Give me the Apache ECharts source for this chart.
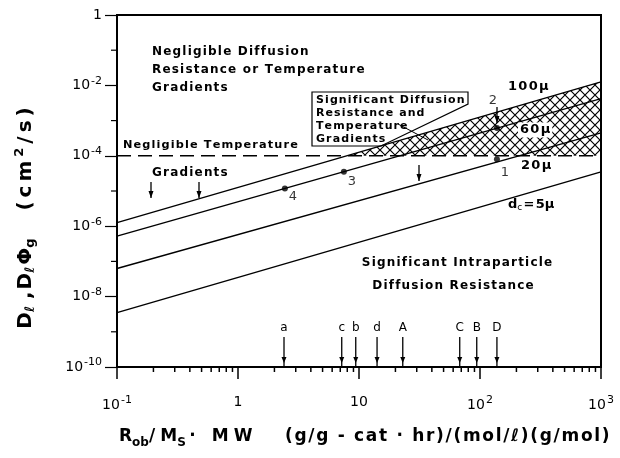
<!DOCTYPE html>
<html>
<head>
    <meta charset="utf-8"/>
    <title>Diffusion regimes</title>
    <script src="https://cdn.jsdelivr.net/npm/echarts/dist/echarts.min.js"></script>
    <style>
        html, body { margin: 0; padding: 0; background: #fff; }
        #main { width: 620px; height: 458px; }
    </style>
</head>
<body>
<div id="main"></div>
<script>
    // particle size lines, end points at x = 0.1 and x = 1000
    let sizeNames = ['100μ', '60μ', '20μ', '5μ'];
    let sizeLeft = [1.26e-6, 5.2e-7, 6.3e-8, 3.5e-9];
    let sizeRight = [1.26e-2, 4.2e-3, 4.5e-4, 3.5e-5];
    let xMin = 0.1, xMax = 1000;
    let threshold = 1e-4;

    // numbered experimental points
    let ptNames = ['1', '2', '3', '4'];
    let ptX = [138, 138, 7.5, 2.44];
    let ptY = [8e-5, 6.2e-4, 3.5e-5, 1.17e-5];

    // catalyst markers along the x axis
    let markNames = ['a', 'c', 'b', 'd', 'A', 'C', 'B', 'D'];
    let markX = [2.4, 7.2, 9.4, 14.1, 23, 68, 94, 138];

    let yMajor = [1e-10, 1e-8, 1e-6, 1e-4, 1e-2, 1];
    let yMinor = [1e-1, 1e-3, 1e-5, 1e-7, 1e-9];
    let xMinor = [];
    [0.1, 1, 10, 100].forEach(function (d) {
        for (let k = 2; k <= 9; k++) xMinor.push(d * k);
    });

    let FONT = 'DejaVu Sans';
    let HS = '\u200A';
    let TS = '\u2009';

    function spaced(s, sep) {
        return s.split('').join(sep || HS);
    }

    function hatch() {
        let c = document.createElement('canvas');
        c.width = 10; c.height = 10;
        let g = c.getContext('2d');
        g.strokeStyle = '#000';
        g.lineWidth = 1.2;
        g.beginPath();
        g.moveTo(-1, -1); g.lineTo(11, 11);
        g.moveTo(11, -1); g.lineTo(-1, 11);
        g.stroke();
        return c;
    }

    function powLabel(v) {
        let e = Math.round(Math.log10(v));
        if (e === 0) return '{n|1}';
        if (e === 1) return '{n|10}';
        return '{n|10}{s|' + (e < 0 ? '-' : '') + Math.abs(e) + '}';
    }

    let labelRich = {
        n: {fontFamily: FONT, fontSize: 14, color: '#000'},
        s: {fontFamily: FONT, fontSize: 11, color: '#000', padding: [0, 0, 9, 1]}
    };

    // where the 100μ line crosses the threshold (log-linear)
    function crossX(y0, y1, yc) {
        let l0 = Math.log10(xMin), l1 = Math.log10(xMax);
        let t = (Math.log10(yc) - Math.log10(y0)) / (Math.log10(y1) - Math.log10(y0));
        return Math.pow(10, l0 + t * (l1 - l0));
    }

    let series = [];

    // hatched band: above threshold, below the largest particle line
    series.push({
        type: 'custom',
        clip: false,
        silent: true,
        z: 1,
        data: [[crossX(sizeLeft[0], sizeRight[0], threshold), threshold]],
        renderItem: function (params, api) {
            let a = api.coord([api.value(0), threshold]);
            let b = api.coord([xMax, sizeRight[0]]);
            let c = api.coord([xMax, threshold]);
            return {
                type: 'polygon',
                shape: {points: [a, b, c]},
                style: {fill: {image: hatch(), repeat: 'repeat'}, stroke: null}
            };
        }
    });

    sizeNames.forEach(function (n, i) {
        series.push({
            type: 'line', name: n, z: 3,
            symbol: 'none', silent: true,
            lineStyle: {color: '#000', width: 1.4},
            data: [[xMin, sizeLeft[i]], [xMax, sizeRight[i]]]
        });
    });

    series.push({
        type: 'line', z: 3, symbol: 'none', silent: true,
        lineStyle: {color: '#000', width: 1.4, type: [14, 7]},
        data: [[xMin, threshold], [xMax, threshold]]
    });

    let ptOffset = [[8, 13], [-4, -27], [8, 10], [8, 8]];
    series.push({
        type: 'scatter', z: 5, symbolSize: 6,
        itemStyle: {color: '#000'},
        data: ptNames.map(function (n, i) {
            return {
                value: [ptX[i], ptY[i]], name: n,
                label: {show: true, formatter: n, position: 'inside', offset: ptOffset[i],
                    fontFamily: FONT, fontSize: 13, color: '#000'}
            };
        })
    });

    // catalyst arrows
    series.push({
        type: 'custom', clip: false, silent: true, z: 4,
        data: markX.map(function (x, i) { return [x, i]; }),
        renderItem: function (params, api) {
            let top = api.coord([api.value(0), Math.pow(10, -9.15)]);
            let bot = api.coord([api.value(0), 1e-10]);
            let x = top[0];
            return {
                type: 'group',
                children: [
                    {type: 'line', shape: {x1: x, y1: top[1], x2: x, y2: bot[1]},
                        style: {stroke: '#000', lineWidth: 1.3}},
                    {type: 'polygon', shape: {points: [[x - 2.5, bot[1] - 10], [x + 2.5, bot[1] - 10], [x, bot[1] - 4]]},
                        style: {fill: '#000'}},
                    {type: 'text', x: x, y: top[1] - 9,
                        style: {text: markNames[api.value(1)], fontFamily: FONT, fontSize: 12, fill: '#000',
                            textAlign: 'center', textVerticalAlign: 'middle'}}
                ]
            };
        }
    });

    // minor ticks
    series.push({
        type: 'custom', clip: false, silent: true,
        data: xMinor.map(function (v) { return [v, 1e-10]; }),
        renderItem: function (params, api) {
            let p = api.coord([api.value(0), 1e-10]);
            return {type: 'line', shape: {x1: p[0], y1: p[1], x2: p[0], y2: p[1] + 5},
                style: {stroke: '#000', lineWidth: 1.5}};
        }
    });
    series.push({
        type: 'custom', clip: false, silent: true,
        data: yMinor.map(function (v) { return [xMin, v]; }),
        renderItem: function (params, api) {
            let p = api.coord([xMin, api.value(1)]);
            return {type: 'line', shape: {x1: p[0] - 6, y1: p[1], x2: p[0], y2: p[1]},
                style: {stroke: '#000', lineWidth: 1.2}};
        }
    });

    function txt(s, x, y, extra) {
        let o = {type: 'text', x: x, y: y, z: 10,
            style: {text: spaced(s), fontFamily: FONT, fontSize: 12, fontWeight: 'bold', fill: '#000',
                textAlign: 'left', textVerticalAlign: 'middle'}};
        if (extra) Object.assign(o.style, extra);
        return o;
    }
    function arrow(x, y1, y2) {
        return [
            {type: 'line', z: 10, shape: {x1: x, y1: y1, x2: x, y2: y2}, style: {stroke: '#000', lineWidth: 1.3}},
            {type: 'polygon', z: 10, shape: {points: [[x - 2.5, y2 - 7], [x + 2.5, y2 - 7], [x, y2]]}, style: {fill: '#000'}}
        ];
    }

    let boxFont = {fontSize: 11};
    let graphics = [
        txt('Negligible Diffusion', 152, 52),
        txt('Resistance or Temperature', 152, 70),
        txt('Gradients', 152, 88),
        txt('Negligible Temperature', 123, 145, {fontSize: 11.3}),
        txt('Gradients', 152, 173),
        {type: 'polygon', z: 9, shape: {points: [[312, 92], [468, 92], [468, 104], [381, 146], [312, 146]]},
            style: {stroke: '#000', lineWidth: 1.2, fill: null}},
        txt('Significant Diffusion', 316, 100, boxFont),
        txt('Resistance and', 316, 113, boxFont),
        txt('Temperature', 316, 126, boxFont),
        txt('Gradients', 316, 139, boxFont),
        {type: 'line', z: 9, shape: {x1: 398, y1: 124, x2: 428, y2: 140}, style: {stroke: '#000', lineWidth: 1}},
        txt('100μ', 508, 87, {fontSize: 13}),
        txt('60μ', 518, 130, {fontSize: 13, backgroundColor: '#fff', padding: [1, 2, 1, 2]}),
        txt('20μ', 521, 166, {fontSize: 13}),
        {type: 'text', x: 508, y: 205, z: 10,
            style: {text: '{n|d}{s|c}{n|' + HS + '=' + HS + '5μ}', textVerticalAlign: 'middle',
                rich: {n: {fontFamily: FONT, fontSize: 13, fontWeight: 'bold', color: '#000'},
                    s: {fontFamily: FONT, fontSize: 9, color: '#000', padding: [6, 0, 0, 0]}}}},
        txt('Significant Intraparticle', 457, 263, {textAlign: 'center'}),
        txt('Diffusion Resistance', 453, 286, {textAlign: 'center'}),
        {type: 'text', x: 26, y: 218, rotation: Math.PI / 2, z: 10,
            style: {text: '{b|D}{u|ℓ}{b| ,' + HS + 'D}{u|ℓ}{b|' + HS + 'Φ}{u|g}{b|    ' + spaced('(cm', TS) + TS + '}{p|2}{b|' + TS + spaced('/s)', TS) + '}',
                textAlign: 'center', textVerticalAlign: 'middle',
                rich: {b: {fontFamily: FONT, fontSize: 20, fontWeight: 'bold', color: '#000'},
                    u: {fontFamily: FONT, fontSize: 13, fontWeight: 'bold', color: '#000', padding: [10, 0, 0, 0]},
                    p: {fontFamily: FONT, fontSize: 13, fontWeight: 'bold', color: '#000', padding: [0, 0, 12, 0]}}}},
        {type: 'text', x: 119, y: 437, z: 10,
            style: {text: '{b|R}{u|ob}{b|' + spaced('/M', HS + HS + HS) + '}{u|S}{b|' + HS + HS + spaced('· MW', HS + HS + HS) + '}',
                textAlign: 'left', textVerticalAlign: 'middle',
                rich: {b: {fontFamily: FONT, fontSize: 17, fontWeight: 'bold', color: '#000'},
                    u: {fontFamily: FONT, fontSize: 12, fontWeight: 'bold', color: '#000', padding: [11, 0, 0, 0]}}}},
        {type: 'text', x: 285, y: 437, z: 10,
            style: {text: spaced('(g/g - cat · hr)/(mol/ℓ)(g/mol)'),
                fontFamily: FONT, fontSize: 17, fontWeight: 'bold', fill: '#000',
                textAlign: 'left', textVerticalAlign: 'middle'}}
    ];
    graphics = graphics.concat(arrow(151, 182, 198), arrow(199, 182, 198), arrow(419, 165, 181), arrow(497, 107, 123));

    let myChart = echarts.init(document.getElementById('main'), null, {renderer: 'canvas'});
    let option = {
        backgroundColor: '#fff',
        animation: false,
        grid: {left: 117, right: 19, top: 15, bottom: 91, show: true, borderColor: '#000', borderWidth: 2,
            backgroundColor: 'transparent'},
        xAxis: {
            type: 'log', logBase: 10, min: xMin, max: xMax,
            axisLine: {lineStyle: {color: '#000', width: 2}},
            axisTick: {show: true, length: 12, lineStyle: {color: '#000', width: 1.5}},
            splitLine: {show: false},
            axisLabel: {margin: 28, formatter: powLabel, rich: labelRich}
        },
        yAxis: {
            type: 'log', logBase: 10, min: 1e-10, max: 1,
            axisLine: {lineStyle: {color: '#000', width: 2}},
            axisTick: {show: true, length: 12, customValues: yMajor, lineStyle: {color: '#000', width: 1.2}},
            splitLine: {show: false},
            axisLabel: {margin: 15, customValues: yMajor, formatter: powLabel, rich: labelRich}
        },
        graphic: graphics,
        series: series
    };
    myChart.setOption(option);
</script>
</body>
</html>
